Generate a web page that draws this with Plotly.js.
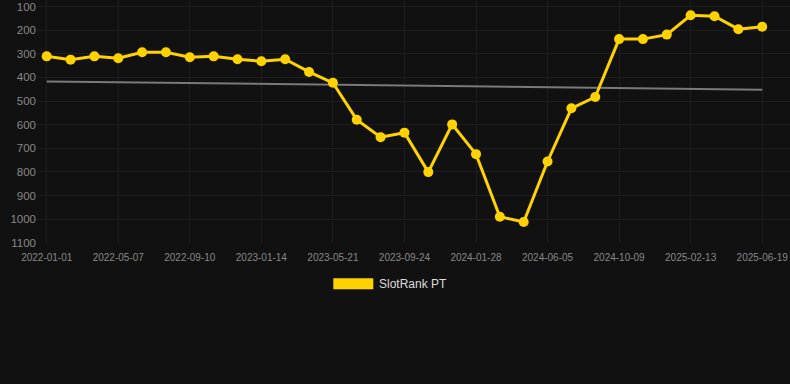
<!DOCTYPE html>
<html>
<head>
<meta charset="utf-8">
<script src="https://cdn.plot.ly/plotly-3.0.1.min.js"></script>
<style>html,body{margin:0;padding:0;background:#111111;}#chart{width:790px;height:384px;}</style>
</head>
<body>
<div id="chart"></div>
<script>
const dates = ["2022-01-01","2022-02-12","2022-03-26","2022-05-07","2022-06-18","2022-07-30","2022-09-10","2022-10-22","2022-12-03","2023-01-14","2023-02-25","2023-04-08","2023-05-21","2023-07-02","2023-08-13","2023-09-24","2023-11-05","2023-12-17","2024-01-28","2024-03-10","2024-04-22","2024-06-05","2024-07-17","2024-08-28","2024-10-09","2024-11-20","2025-01-01","2025-02-13","2025-03-27","2025-05-08","2025-06-19"];
const rank = [311,325,311,319,294,294,315,311,323,332,323,377,423,579,653,634,801,599,725,990,1012,756,531,483,238,238,219,137,141,196,186];
const trendDates = ["2022-01-01","2025-06-19"];
const trendValues = [417,452];
const tickDates = ["2022-01-01","2022-05-07","2022-09-10","2023-01-14","2023-05-21","2023-09-24","2024-01-28","2024-06-05","2024-10-09","2025-02-13","2025-06-19"];
const yTicks = [100,200,300,400,500,600,700,800,900,1000,1100];
const seriesName = "SlotRank PT";
const gold = "#FFD200";

const traces = [
  {x: trendDates, y: trendValues, type: "scatter", mode: "lines",
   line: {color: "#7a7a7a", width: 2}, hoverinfo: "skip", showlegend: false},
  {x: dates, y: rank, type: "scatter", mode: "lines+markers", name: seriesName,
   line: {color: gold, width: 3}, marker: {color: gold, size: 10}, showlegend: false}
];

const layout = {
  width: 790, height: 384,
  paper_bgcolor: "#111111", plot_bgcolor: "#111111",
  margin: {l: 37, r: 0, t: 0, b: 141},
  font: {family: "Arial, 'Liberation Sans', sans-serif", color: "#888888"},
  showlegend: false,
  xaxis: {
    type: "category", categoryarray: dates, categoryorder: "array",
    range: [-0.407, 31.166],
    tickvals: tickDates, ticktext: tickDates,
    tickfont: {size: 10, color: "#888888"},
    showgrid: true, gridcolor: "#1d1d1d", gridwidth: 1,
    zeroline: false, showline: false,
    ticks: "outside", ticklen: 5, tickcolor: "rgba(0,0,0,0)"
  },
  yaxis: {
    range: [1101, 72.5],
    tickvals: yTicks,
    tickfont: {size: 11.5, color: "#888888"},
    showgrid: true, gridcolor: "#1d1d1d", gridwidth: 1,
    zeroline: false, showline: false,
    ticks: "", ticklen: 0
  },
  shapes: [
    {type: "rect", xref: "paper", yref: "paper", x0: 0.3935, x1: 0.4466, y0: -0.1905, y1: -0.1453,
     fillcolor: gold, line: {width: 0}}
  ],
  annotations: [
    {xref: "paper", yref: "paper", x: 0.4519, y: -0.1687, xanchor: "left", yanchor: "middle",
     text: seriesName, showarrow: false, font: {size: 12, color: "#dddddd"}}
  ]
};

Plotly.newPlot("chart", traces, layout, {displayModeBar: false, staticPlot: true});
</script>
</body>
</html>
